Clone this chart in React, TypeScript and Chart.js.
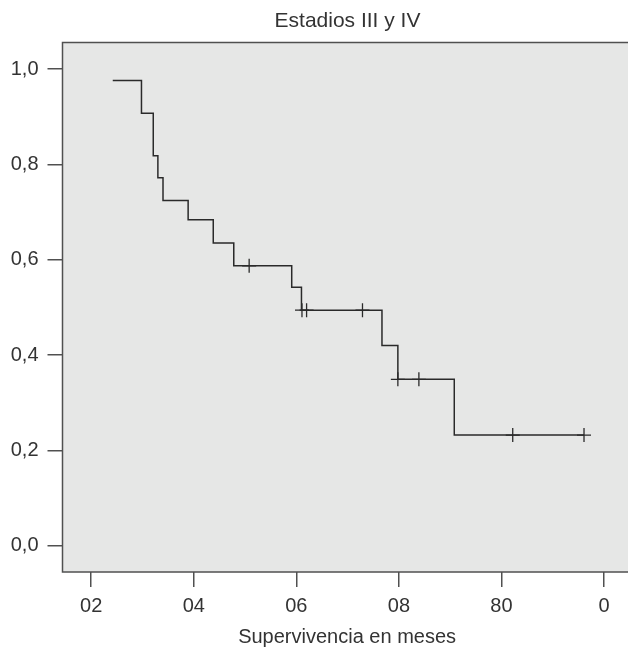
import React, { useEffect, useRef } from "react";
import { Chart, registerables } from "chart.js";

Chart.register(...registerables);

const chartTitle = "Estadios III y IV";
const xAxisTitle = "Supervivencia en meses";
const xTickValues = [20, 40, 60, 80, 100, 120];
const xTickLabels = ["02", "04", "06", "08", "80", "0"];
const yTickValues = [0, 0.2, 0.4, 0.6, 0.8, 1.0];
const yTickLabels = ["0,0", "0,2", "0,4", "0,6", "0,8", "1,0"];

const stepTimes = [24.2, 29.8, 32.1, 33.0, 34.0, 38.9, 43.8, 47.8, 59.1, 61.0, 76.7, 79.8, 90.8, 116.1];
const stepSurvival = [0.976, 0.907, 0.818, 0.772, 0.724, 0.684, 0.635, 0.587, 0.542, 0.494, 0.42, 0.349, 0.232, 0.232];

const censorTimes = [50.8, 61.1, 62.0, 72.9, 79.8, 83.9, 102.2, 116.1];
const censorSurvival = [0.587, 0.494, 0.494, 0.494, 0.349, 0.349, 0.232, 0.232];

const FONT = "'Liberation Sans', Arial, Helvetica, sans-serif";
const INK = "#333333";
const FRAME = "#505050";
const PANEL = "#e6e7e6";

const framePlugin = {
  id: "framePlugin",
  beforeDraw(chart: any) {
    const { ctx, chartArea } = chart;
    ctx.save();
    ctx.fillStyle = PANEL;
    ctx.fillRect(chartArea.left, chartArea.top, chartArea.right - chartArea.left, chartArea.bottom - chartArea.top);
    ctx.restore();
  },
  afterDraw(chart: any) {
    const { ctx, chartArea } = chart;
    ctx.save();
    ctx.strokeStyle = FRAME;
    ctx.lineWidth = 1.5;
    ctx.strokeRect(chartArea.left, chartArea.top, chartArea.right - chartArea.left, chartArea.bottom - chartArea.top);
    ctx.fillStyle = INK;
    ctx.font = `21px ${FONT}`;
    ctx.textAlign = "center";
    ctx.textBaseline = "alphabetic";
    ctx.fillText(chartTitle, 347.5, 26.7);
    ctx.restore();
  },
};

export default function App() {
  const canvasRef = useRef<HTMLCanvasElement | null>(null);

  useEffect(() => {
    if (!canvasRef.current) return;
    const stepData = stepTimes.map((t, i) => ({ x: t, y: stepSurvival[i] }));
    const censorData = censorTimes.map((t, i) => ({ x: t, y: censorSurvival[i] }));

    const chart = new Chart(canvasRef.current, {
      type: "scatter",
      data: {
        datasets: [
          {
            label: "Supervivencia",
            data: stepData,
            showLine: true,
            stepped: "before",
            borderColor: "#2a2a2a",
            borderWidth: 1.5,
            pointRadius: 0,
            fill: false,
          } as any,
          {
            label: "Censurado",
            data: censorData,
            showLine: false,
            pointStyle: "cross",
            pointRadius: 7,
            borderColor: "#2a2a2a",
            borderWidth: 1.3,
          } as any,
        ],
      },
      options: {
        animation: false,
        responsive: false,
        maintainAspectRatio: false,
        layout: { padding: { top: 42.5, right: 8, left: 0, bottom: 0 } },
        plugins: {
          legend: { display: false },
          tooltip: { enabled: false },
          title: { display: false },
        },
        scales: {
          x: {
            type: "linear",
            min: 14.4,
            max: 125.4,
            afterBuildTicks: (scale: any) => {
              scale.ticks = xTickValues.map((v) => ({ value: v }));
            },
            afterFit: (scale: any) => {
              scale.height = 76;
            },
            grid: {
              display: true,
              drawOnChartArea: false,
              drawTicks: true,
              tickLength: 15,
              color: FRAME,
              lineWidth: 1.5,
            },
            border: { display: false },
            ticks: {
              color: INK,
              font: { family: FONT, size: 20 },
              padding: 7,
              maxRotation: 0,
              autoSkip: false,
              callback: (value: any) => {
                const i = xTickValues.indexOf(Number(value));
                return i >= 0 ? xTickLabels[i] : "";
              },
            },
            title: {
              display: true,
              text: xAxisTitle,
              color: INK,
              font: { family: FONT, size: 20, lineHeight: 1.05 },
              padding: { top: 0, bottom: 0 },
            },
          },
          y: {
            type: "linear",
            min: -0.0552,
            max: 1.0556,
            afterBuildTicks: (scale: any) => {
              scale.ticks = yTickValues.map((v) => ({ value: v }));
            },
            afterFit: (scale: any) => {
              scale.width = 62.5;
            },
            grid: {
              display: true,
              drawOnChartArea: false,
              drawTicks: true,
              tickLength: 15,
              color: FRAME,
              lineWidth: 1.5,
            },
            border: { display: false },
            ticks: {
              color: INK,
              font: { family: FONT, size: 20 },
              padding: 9,
              autoSkip: false,
              callback: (value: any) => {
                const i = yTickValues.findIndex((v) => Math.abs(v - Number(value)) < 1e-6);
                return i >= 0 ? yTickLabels[i] : "";
              },
            },
          },
        },
      },
      plugins: [framePlugin],
    });

    return () => {
      chart.destroy();
    };
  }, []);

  return (
    <div
      style={{
        position: "fixed",
        left: 0,
        top: 0,
        width: 628,
        height: 648,
        overflow: "hidden",
        background: "#ffffff",
      }}
    >
      <canvas
        ref={canvasRef}
        width={640}
        height={648}
        style={{ display: "block", width: 640, height: 648 }}
      />
    </div>
  );
}
